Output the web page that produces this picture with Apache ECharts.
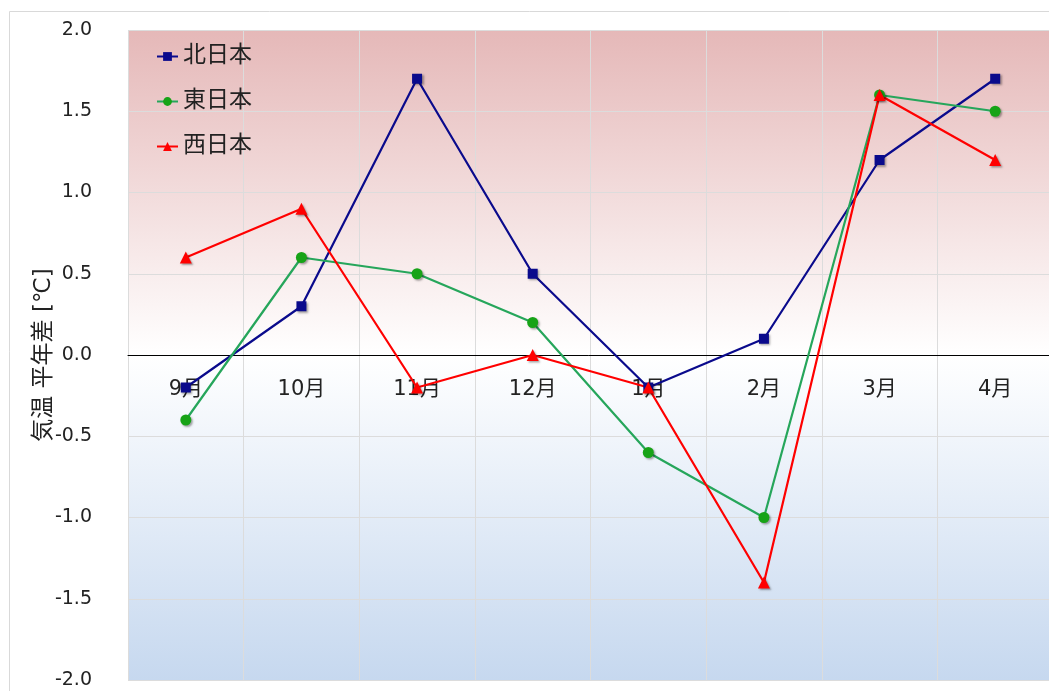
<!DOCTYPE html>
<html>
<head>
<meta charset="utf-8">
<script src="https://cdn.jsdelivr.net/npm/echarts@6/dist/echarts.min.js"></script>
<style>
html, body { margin: 0; padding: 0; background: #fff; }
#main { width: 1049px; height: 691px; }
</style>
</head>
<body>
<div id="main"></div>
<script>
var months = ['9月', '10月', '11月', '12月', '1月', '2月', '3月', '4月'];
var kitaNihon = [-0.2, 0.3, 1.7, 0.5, -0.2, 0.1, 1.2, 1.7];
var higashiNihon = [-0.4, 0.6, 0.5, 0.2, -0.6, -1.0, 1.6, 1.5];
var nishiNihon = [0.6, 0.9, -0.2, 0.0, -0.2, -1.4, 1.6, 1.2];

var font = "'DejaVu Sans', 'Noto Sans CJK JP', sans-serif";
var markShadow = {
	shadowBlur: 2,
	shadowOffsetX: 1.5,
	shadowOffsetY: 1.5,
	shadowColor: 'rgba(0,0,0,0.35)'
};

function makeSeries(name, data, color, lineColor, symbol, size) {
	return {
		name: name,
		type: 'line',
		data: data,
		symbol: symbol,
		symbolSize: size,
		lineStyle: { color: lineColor, width: 2.2 },
		itemStyle: Object.assign({ color: color }, markShadow),
		z: 3
	};
}

var myChart = echarts.init(document.getElementById('main'));
var option = {
	animation: false,
	textStyle: { fontFamily: font },
	graphic: [{
		type: 'rect',
		shape: { x: 9.5, y: 11.5, width: 1100, height: 700 },
		style: { fill: 'none', stroke: '#d9d9d9', lineWidth: 1 },
		silent: true
	}],
	grid: {
		left: 128,
		top: 30,
		width: 925,
		height: 650,
		outerBoundsMode: 'none',
		containLabel: false,
		show: true,
		borderWidth: 0,
		backgroundColor: new echarts.graphic.LinearGradient(0, 0, 0, 1, [
			{ offset: 0, color: '#e5b8b8' },
			{ offset: 0.5, color: '#ffffff' },
			{ offset: 1, color: '#c6d8ef' }
		])
	},
	legend: {
		orient: 'vertical',
		left: 151,
		top: 40,
		itemGap: 22,
		itemWidth: 21,
		itemHeight: 11,
		textStyle: { fontSize: 23, color: '#222', fontFamily: font },
		data: ['北日本', '東日本', '西日本']
	},
	xAxis: [{
		// labels and zero line, moved up to y = 0
		type: 'category',
		data: months,
		boundaryGap: true,
		offset: -325,
		axisLine: { onZero: false, lineStyle: { color: '#000', width: 1 } },
		axisTick: { show: false },
		axisLabel: { fontSize: 21, color: '#222', margin: 24 },
		splitLine: { show: false }
	}, {
		// grid lines only
		type: 'category',
		data: months,
		boundaryGap: true,
		position: 'bottom',
		axisLine: { show: false },
		axisTick: { show: false },
		axisLabel: { show: false },
		splitLine: { show: true, lineStyle: { color: '#dcdcdc', width: 1 } }
	}],
	yAxis: {
		type: 'value',
		min: -2,
		max: 2,
		interval: 0.5,
		name: '気温 平年差 [℃]',
		nameLocation: 'middle',
		nameGap: 72,
		nameMoveOverlap: false,
		nameTextStyle: { fontSize: 23, color: '#222' },
		axisLine: { show: false },
		axisTick: { show: false },
		axisLabel: {
			fontSize: 19,
			color: '#222',
			margin: 36,
			formatter: function (v) { return v.toFixed(1); }
		},
		splitLine: { show: true, lineStyle: { color: '#dcdcdc', width: 1 } }
	},
	series: [
		makeSeries('北日本', kitaNihon, '#0a0a8c', '#0a0a8c', 'rect', 10),
		makeSeries('東日本', higashiNihon, '#17a317', '#26a65b', 'circle', 11),
		makeSeries('西日本', nishiNihon, '#ff0000', '#ff0000', 'triangle', 12)
	]
};
myChart.setOption(option);
</script>
</body>
</html>
